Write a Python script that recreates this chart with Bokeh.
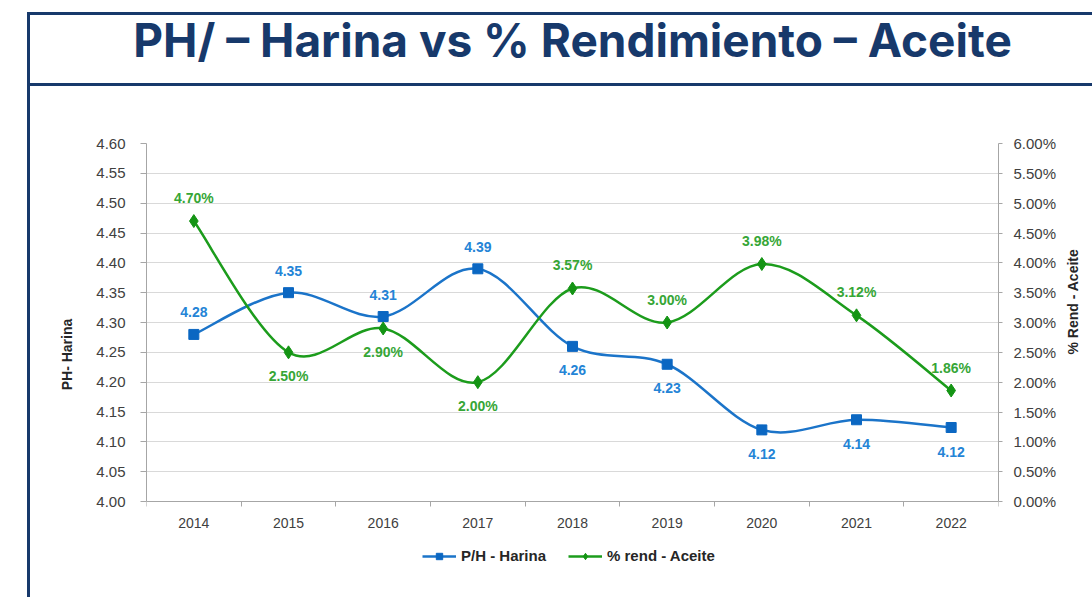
import math
from bokeh.plotting import figure
from bokeh.models import (Range1d, LinearAxis, FixedTicker, PrintfTickFormatter,
                          Legend, LegendItem, ColumnDataSource)
from bokeh.core.properties import value
from bokeh.embed import file_html
from bokeh.resources import INLINE

# ---------------- data ----------------
years = ["2014", "2015", "2016", "2017", "2018", "2019", "2020", "2021", "2022"]
ph_harina = [4.28, 4.35, 4.31, 4.39, 4.26, 4.23, 4.12, 4.137, 4.124]
rend_aceite = [4.70, 2.50, 2.90, 2.00, 3.57, 3.00, 3.98, 3.12, 1.86]
ph_ticks = [4.00, 4.05, 4.10, 4.15, 4.20, 4.25, 4.30, 4.35, 4.40, 4.45, 4.50, 4.55, 4.60]
pct_ticks = [0.0, 0.5, 1.0, 1.5, 2.0, 2.5, 3.0, 3.5, 4.0, 4.5, 5.0, 5.5, 6.0]
ph_label_side = ["above", "above", "above", "above", "below", "below", "below", "below", "below"]
rend_label_side = ["above", "below", "below", "below", "above", "above", "above", "above", "above"]

TITLE = "PH/ \u2013 Harina vs % Rendimiento \u2013 Aceite"
NAVY = "#17396b"
BLUE_LINE = "#1b74c9"
BLUE_MARK = "#0b67c2"
BLUE_TXT = "#2484d6"
GREEN_LINE = "#1c9c1c"
GREEN_MARK = "#149414"
GREEN_TXT = "#36a636"
FONT = "Liberation Sans"

# layout (pixels)
TOP = 143          # top of data area
DATA_H = 358       # height of the 4.00..4.60 data area
FRAME_W = 852
EXTRA = 64         # frame space below the data area (holds x labels + legend)
FRAME_H = DATA_H + EXTRA

xs = [i + 0.5 for i in range(len(years))]


def bezier_cols(x, y):
    n = len(x)
    out = dict(x0=[], y0=[], x1=[], y1=[], cx0=[], cy0=[], cx1=[], cy1=[])
    for i in range(n - 1):
        im, i2 = max(i - 1, 0), min(i + 2, n - 1)
        out["x0"].append(x[i]); out["y0"].append(y[i])
        out["x1"].append(x[i + 1]); out["y1"].append(y[i + 1])
        out["cx0"].append(x[i] + (x[i + 1] - x[im]) / 6.0)
        out["cy0"].append(y[i] + (y[i + 1] - y[im]) / 6.0)
        out["cx1"].append(x[i + 1] - (x[i2] - x[i]) / 6.0)
        out["cy1"].append(y[i + 1] - (y[i2] - y[i]) / 6.0)
    return out


ph_lo = ph_ticks[0] - (ph_ticks[-1] - ph_ticks[0]) * EXTRA / DATA_H
pct_lo = pct_ticks[0] - (pct_ticks[-1] - pct_ticks[0]) * EXTRA / DATA_H

p = figure(frame_width=FRAME_W, frame_height=FRAME_H, x_range=Range1d(0, len(years)),
           y_range=Range1d(ph_lo, ph_ticks[-1]), title=None,
           output_backend="svg", toolbar_location=None,
           min_border_left=146, min_border_right=94, min_border_top=TOP, min_border_bottom=32)
p.extra_y_ranges = {"pct": Range1d(pct_lo, pct_ticks[-1])}
p.outline_line_color = None
p.background_fill_color = "white"
p.border_fill_color = None

# navy frame lines of the slide (title box + content box), drawn as CSS backgrounds
navy_grad = "linear-gradient(%s,%s)" % (NAVY, NAVY)
p.styles = {
    "background-color": "white",
    "background-image": ", ".join([navy_grad] * 3),
    "background-size": "1070px 3px, 1070px 3px, 3px 590px",
    "background-position": "27px 12px, 27px 83px, 27px 12px",
    "background-repeat": "no-repeat",
}

p.xgrid.grid_line_color = None
p.ygrid.grid_line_color = "#d9d9d9"
p.ygrid.grid_line_width = 1

AX = "#a6a6a6"
TICK_TXT = "#404040"

# bottom (category) axis, drawn at the 4.00 line
xa = p.below[0]
xa.fixed_location = ph_ticks[0]
xa.ticker = FixedTicker(ticks=xs, minor_ticks=list(range(len(years) + 1)))
xa.major_label_overrides = {x: y for x, y in zip(xs, years)}
xa.major_tick_out = 0
xa.major_tick_in = 0
xa.minor_tick_out = 5
xa.minor_tick_in = 0
xa.minor_tick_line_color = AX
xa.axis_line_color = AX
xa.major_label_text_font = FONT
xa.major_label_text_font_size = "14px"
xa.major_label_text_color = TICK_TXT
xa.major_label_standoff = 11

# title as the label of an empty top axis
ta = LinearAxis(ticker=FixedTicker(ticks=[]))
ta.axis_line_color = None
ta.major_tick_line_color = None
ta.minor_tick_line_color = None
ta.major_tick_out = 0
ta.minor_tick_out = 0
ta.axis_label = TITLE
ta.axis_label_text_font = "Inter"
ta.axis_label_text_font_style = "bold"
ta.axis_label_text_font_size = "46px"
ta.axis_label_text_color = NAVY
ta.axis_label_standoff = 76
p.add_layout(ta, "above")

ya = p.left[0]
ya.bounds = (ph_ticks[0], ph_ticks[-1])
ya.ticker = FixedTicker(ticks=ph_ticks)
ya.formatter = PrintfTickFormatter(format="%.2f")
ya.minor_tick_line_color = None
ya.major_tick_in = 0
ya.major_tick_out = 6
ya.major_tick_line_color = AX
ya.axis_line_color = AX
ya.major_label_text_font = FONT
ya.major_label_text_font_size = "15px"
ya.major_label_text_color = TICK_TXT
ya.major_label_standoff = 15
ya.axis_label = "PH- Harina"
ya.axis_label_text_font = FONT
ya.axis_label_text_font_style = "bold"
ya.axis_label_text_font_size = "14px"
ya.axis_label_text_color = "#262626"
ya.axis_label_standoff = 18

ra = LinearAxis(y_range_name="pct", ticker=FixedTicker(ticks=pct_ticks),
                formatter=PrintfTickFormatter(format="%.2f%%"),
                bounds=(pct_ticks[0], pct_ticks[-1]))
ra.minor_tick_line_color = None
ra.major_tick_in = 0
ra.major_tick_out = 4
ra.major_tick_line_color = AX
ra.axis_line_color = AX
ra.major_label_text_font = FONT
ra.major_label_text_font_size = "15px"
ra.major_label_text_color = TICK_TXT
ra.major_label_standoff = 11
ra.axis_label = "% Rend - Aceite"
ra.axis_label_text_font = FONT
ra.axis_label_text_font_style = "bold"
ra.axis_label_text_font_size = "14px"
ra.axis_label_text_color = "#262626"
ra.axis_label_standoff = 14
ra.axis_label_orientation = math.pi / 2
p.add_layout(ra, "right")

# series: P/H - Harina
src_b = ColumnDataSource(bezier_cols(xs, ph_harina))
p.bezier(x0="x0", y0="y0", x1="x1", y1="y1", cx0="cx0", cy0="cy0", cx1="cx1", cy1="cy1",
         source=src_b, line_color=BLUE_LINE, line_width=2.5)
ph_src = ColumnDataSource(dict(x=xs, y=ph_harina,
                               lab=["%.2f" % v for v in ph_harina],
                               off=[-22 if s == "above" else 24 for s in ph_label_side]))
ph_pts = p.scatter("x", "y", source=ph_src, marker="square", size=10,
                   fill_color=BLUE_MARK, line_color=BLUE_MARK)
p.text("x", "y", text="lab", source=ph_src, y_offset="off", text_align="center",
       text_baseline="middle", text_color=BLUE_TXT, text_font=value(FONT),
       text_font_style="bold", text_font_size="14px")

# series: % rend - Aceite
src_g = ColumnDataSource(bezier_cols(xs, rend_aceite))
p.bezier(x0="x0", y0="y0", x1="x1", y1="y1", cx0="cx0", cy0="cy0", cx1="cx1", cy1="cy1",
         source=src_g, line_color=GREEN_LINE, line_width=2.5, y_range_name="pct")
rd_src = ColumnDataSource(dict(x=xs, y=rend_aceite,
                               lab=["%.2f%%" % v for v in rend_aceite],
                               off=[-23 if s == "above" else 24 for s in rend_label_side]))
rd_pts = p.scatter("x", "y", source=rd_src, marker="diamond", size=13,
                   fill_color=GREEN_MARK, line_color=GREEN_MARK, y_range_name="pct")
p.text("x", "y", text="lab", source=rd_src, y_offset="off", text_align="center",
       text_baseline="middle", text_color=GREEN_TXT, text_font=value(FONT),
       text_font_style="bold", text_font_size="14px", y_range_name="pct")

# legend (line swatches come from NaN-only line renderers)
nan = float("nan")
lb = p.line(x=[nan], y=[nan], line_color=BLUE_LINE, line_width=2.5)
lg = p.line(x=[nan], y=[nan], line_color=GREEN_LINE, line_width=2.5, y_range_name="pct")
legend = Legend(items=[LegendItem(label="P/H - Harina", renderers=[lb, ph_pts]),
                       LegendItem(label="% rend - Aceite", renderers=[lg, rd_pts])],
                orientation="horizontal", location=(276, 1),
                glyph_width=34, glyph_height=16, label_height=16, label_standoff=5, spacing=22,
                padding=0, margin=0, border_line_color=None, background_fill_alpha=0,
                label_text_font=FONT, label_text_font_style="bold",
                label_text_font_size="15px", label_text_color="#262626")
p.add_layout(legend, "center")

open("out.html", "w").write(file_html(p, INLINE))
